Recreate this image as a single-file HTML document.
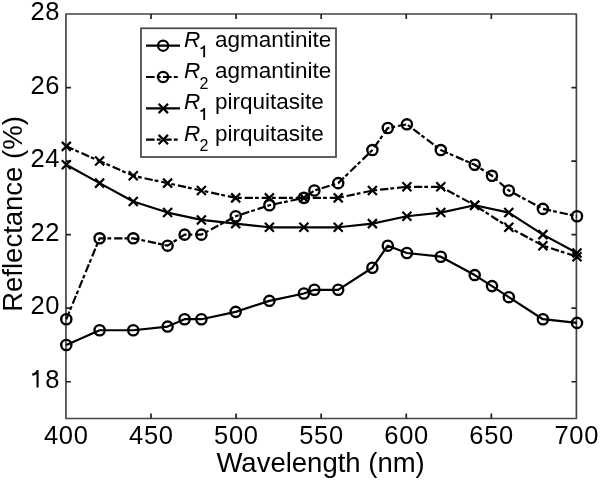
<!DOCTYPE html>
<html><head><meta charset="utf-8"><style>
html,body{margin:0;padding:0;background:#fff;width:600px;height:480px;overflow:hidden;}
svg{display:block;filter:grayscale(1);}
text{font-family:"Liberation Sans",sans-serif;}
</style></head><body>
<svg width="600" height="480" viewBox="0 0 600 480"><rect width="600" height="480" fill="#fff"/><g fill="none" stroke="#444" stroke-width="1.7" stroke-linejoin="round"><rect x="65.95" y="14.0" width="510.45" height="404.50"/><path d="M65.95,381.73h5.0M576.40,381.73h-5.0M65.95,308.18h5.0M576.40,308.18h-5.0M65.95,234.64h5.0M576.40,234.64h-5.0M65.95,161.09h5.0M576.40,161.09h-5.0M65.95,87.55h5.0M576.40,87.55h-5.0M151.03,418.50v-5.0M151.03,14.00v5.0M236.10,418.50v-5.0M236.10,14.00v5.0M321.18,418.50v-5.0M321.18,14.00v5.0M406.25,418.50v-5.0M406.25,14.00v5.0M491.32,418.50v-5.0M491.32,14.00v5.0" stroke="#222"/></g><g fill="none" stroke="#000" stroke-width="2.2" stroke-linejoin="round"><polyline points="66.30,344.95 99.60,330.25 133.25,330.25 167.60,326.57 184.60,319.21 201.40,319.21 235.70,311.86 269.40,300.83 303.90,293.47 314.40,289.80 338.20,289.80 372.40,267.73 387.80,245.67 406.90,253.02 440.80,256.70 474.70,275.09 492.00,286.12 508.80,297.15 542.90,319.21 577.00,322.89"/><polyline points="66.30,319.21 99.60,238.31 133.25,238.31 167.60,245.67 184.60,234.64 201.40,234.64 235.70,216.25 269.40,205.22 303.90,197.86 314.40,190.51 338.20,183.15 372.40,150.06 387.80,128.00 406.90,124.32 440.80,150.06 474.70,164.77 492.00,175.80 508.80,190.51 542.90,208.90 577.00,216.25" stroke-dasharray="8.3 2.0 3.8 2.93" stroke-dashoffset="0.15"/><polyline points="66.30,164.77 99.60,183.15 133.25,201.54 167.60,212.57 201.40,219.93 235.70,223.60 269.40,227.28 303.90,227.28 338.20,227.28 372.40,223.60 406.90,216.25 440.80,212.57 474.70,205.22 508.80,212.57 542.90,234.64 577.00,253.02"/><polyline points="66.30,146.38 99.60,161.09 133.25,175.80 167.60,183.15 201.40,190.51 235.70,197.86 269.40,197.86 303.90,197.86 338.20,197.86 372.40,190.51 406.90,186.83 440.80,186.83 474.70,205.22 508.80,227.28 542.90,245.67 577.00,256.70" stroke-dasharray="8.3 2.0 3.8 2.93" stroke-dashoffset="0.45"/><g stroke-width="2.35"><circle cx="66.30" cy="344.95" r="5.1"/><circle cx="99.60" cy="330.25" r="5.1"/><circle cx="133.25" cy="330.25" r="5.1"/><circle cx="167.60" cy="326.57" r="5.1"/><circle cx="184.60" cy="319.21" r="5.1"/><circle cx="201.40" cy="319.21" r="5.1"/><circle cx="235.70" cy="311.86" r="5.1"/><circle cx="269.40" cy="300.83" r="5.1"/><circle cx="303.90" cy="293.47" r="5.1"/><circle cx="314.40" cy="289.80" r="5.1"/><circle cx="338.20" cy="289.80" r="5.1"/><circle cx="372.40" cy="267.73" r="5.1"/><circle cx="387.80" cy="245.67" r="5.1"/><circle cx="406.90" cy="253.02" r="5.1"/><circle cx="440.80" cy="256.70" r="5.1"/><circle cx="474.70" cy="275.09" r="5.1"/><circle cx="492.00" cy="286.12" r="5.1"/><circle cx="508.80" cy="297.15" r="5.1"/><circle cx="542.90" cy="319.21" r="5.1"/><circle cx="577.00" cy="322.89" r="5.1"/><circle cx="66.30" cy="319.21" r="5.1"/><circle cx="99.60" cy="238.31" r="5.1"/><circle cx="133.25" cy="238.31" r="5.1"/><circle cx="167.60" cy="245.67" r="5.1"/><circle cx="184.60" cy="234.64" r="5.1"/><circle cx="201.40" cy="234.64" r="5.1"/><circle cx="235.70" cy="216.25" r="5.1"/><circle cx="269.40" cy="205.22" r="5.1"/><circle cx="303.90" cy="197.86" r="5.1"/><circle cx="314.40" cy="190.51" r="5.1"/><circle cx="338.20" cy="183.15" r="5.1"/><circle cx="372.40" cy="150.06" r="5.1"/><circle cx="387.80" cy="128.00" r="5.1"/><circle cx="406.90" cy="124.32" r="5.1"/><circle cx="440.80" cy="150.06" r="5.1"/><circle cx="474.70" cy="164.77" r="5.1"/><circle cx="492.00" cy="175.80" r="5.1"/><circle cx="508.80" cy="190.51" r="5.1"/><circle cx="542.90" cy="208.90" r="5.1"/><circle cx="577.00" cy="216.25" r="5.1"/></g><path d="M61.80,160.27L70.80,169.27M61.80,169.27L70.80,160.27M95.10,178.65L104.10,187.65M95.10,187.65L104.10,178.65M128.75,197.04L137.75,206.04M128.75,206.04L137.75,197.04M163.10,208.07L172.10,217.07M163.10,217.07L172.10,208.07M196.90,215.43L205.90,224.43M196.90,224.43L205.90,215.43M231.20,219.10L240.20,228.10M231.20,228.10L240.20,219.10M264.90,222.78L273.90,231.78M264.90,231.78L273.90,222.78M299.40,222.78L308.40,231.78M299.40,231.78L308.40,222.78M333.70,222.78L342.70,231.78M333.70,231.78L342.70,222.78M367.90,219.10L376.90,228.10M367.90,228.10L376.90,219.10M402.40,211.75L411.40,220.75M402.40,220.75L411.40,211.75M436.30,208.07L445.30,217.07M436.30,217.07L445.30,208.07M470.20,200.72L479.20,209.72M470.20,209.72L479.20,200.72M504.30,208.07L513.30,217.07M504.30,217.07L513.30,208.07M538.40,230.14L547.40,239.14M538.40,239.14L547.40,230.14M572.50,248.52L581.50,257.52M572.50,257.52L581.50,248.52"/><path d="M61.80,141.88L70.80,150.88M61.80,150.88L70.80,141.88M95.10,156.59L104.10,165.59M95.10,165.59L104.10,156.59M128.75,171.30L137.75,180.30M128.75,180.30L137.75,171.30M163.10,178.65L172.10,187.65M163.10,187.65L172.10,178.65M196.90,186.01L205.90,195.01M196.90,195.01L205.90,186.01M231.20,193.36L240.20,202.36M231.20,202.36L240.20,193.36M264.90,193.36L273.90,202.36M264.90,202.36L273.90,193.36M299.40,193.36L308.40,202.36M299.40,202.36L308.40,193.36M333.70,193.36L342.70,202.36M333.70,202.36L342.70,193.36M367.90,186.01L376.90,195.01M367.90,195.01L376.90,186.01M402.40,182.33L411.40,191.33M402.40,191.33L411.40,182.33M436.30,182.33L445.30,191.33M436.30,191.33L445.30,182.33M470.20,200.72L479.20,209.72M470.20,209.72L479.20,200.72M504.30,222.78L513.30,231.78M504.30,231.78L513.30,222.78M538.40,241.17L547.40,250.17M538.40,250.17L547.40,241.17M572.50,252.20L581.50,261.20M572.50,261.20L581.50,252.20"/></g><g font-family="Liberation Sans" font-size="25.5" fill="#000" letter-spacing="0.7"><text x="60.20" y="387.73" text-anchor="end">8</text><text x="60.20" y="314.18" text-anchor="end">20</text><text x="60.20" y="240.64" text-anchor="end">22</text><text x="60.20" y="167.09" text-anchor="end">24</text><text x="60.20" y="93.55" text-anchor="end">26</text><text x="60.20" y="20.00" text-anchor="end">28</text><path d="M38.6,370 L38.6,387.6 L36.5,387.6 L36.5,373.9 C35.6,374.9 34,375.5 32.1,375.5 L32.1,373.5 C34.3,373.4 36,372.3 36.7,370 Z"/><text x="66.30" y="444.3" text-anchor="middle">400</text><text x="151.38" y="444.3" text-anchor="middle">450</text><text x="236.45" y="444.3" text-anchor="middle">500</text><text x="321.53" y="444.3" text-anchor="middle">550</text><text x="406.60" y="444.3" text-anchor="middle">600</text><text x="491.68" y="444.3" text-anchor="middle">650</text><text x="576.75" y="444.3" text-anchor="middle">700</text></g><text x="320.6" y="471.6" text-anchor="middle" font-family="Liberation Sans" font-size="27.5">Wavelength (nm)</text><text transform="translate(22.3,214) rotate(-90)" text-anchor="middle" font-family="Liberation Sans" font-size="27.5">Reflectance (%)</text><rect x="141" y="28.3" width="195" height="128.7" fill="#fff" stroke="#444" stroke-width="1.7"/><g fill="none" stroke="#000" stroke-width="2.2"><path d="M146,45.7H180"/><circle cx="163.1" cy="45.7" r="5.1"/><path d="M146,77.0H180" stroke-dasharray="8.6 2.2 3.9 2.33"/><circle cx="163.1" cy="77.0" r="5.1"/><path d="M146,108.4H180"/><path d="M158.60000000000002,103.7L168.0,113.10000000000001M158.60000000000002,113.10000000000001L168.0,103.7"/><path d="M146,139.6H180" stroke-dasharray="8.6 2.2 3.9 2.33"/><path d="M158.60000000000002,134.9L168.0,144.29999999999998M158.60000000000002,144.29999999999998L168.0,134.9"/></g><g font-family="Liberation Sans" fill="#000"><text x="184" y="46.70" font-size="22.5" font-style="italic">R</text><path d="M205.1,45.40 L205.1,57.30 L203.3,57.30 L203.3,48.30 C202.6,48.90 201.6,49.30 200.5,49.30 L200.5,47.60 C202.0,47.50 203.2,46.60 203.6,45.40 Z"/><text x="215" y="46.70" font-size="22.5">agmantinite</text><text x="184" y="78.00" font-size="22.5" font-style="italic">R</text><text x="199.5" y="88.60" font-size="16">2</text><text x="215" y="78.00" font-size="22.5">agmantinite</text><text x="184" y="109.40" font-size="22.5" font-style="italic">R</text><path d="M205.1,108.10 L205.1,120.00 L203.3,120.00 L203.3,111.00 C202.6,111.60 201.6,112.00 200.5,112.00 L200.5,110.30 C202.0,110.20 203.2,109.30 203.6,108.10 Z"/><text x="215" y="109.40" font-size="22.5">pirquitasite</text><text x="184" y="140.60" font-size="22.5" font-style="italic">R</text><text x="199.5" y="151.20" font-size="16">2</text><text x="215" y="140.60" font-size="22.5">pirquitasite</text></g></svg>
</body></html>
